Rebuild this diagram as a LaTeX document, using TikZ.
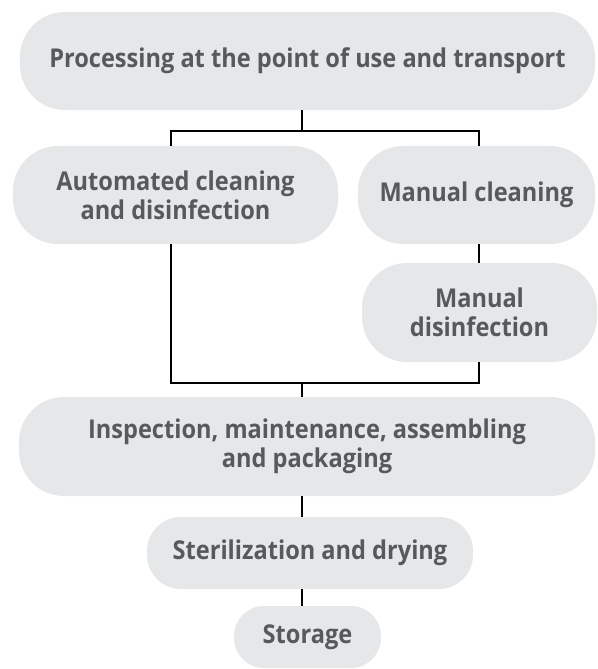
\documentclass[tikz,border=0pt]{standalone}
\usepackage{fontspec}
\setmainfont{Open Sans}[FakeStretch=0.91]
\definecolor{boxfill}{HTML}{E6E7E8}
\definecolor{boxtext}{HTML}{58595B}
\begin{document}
\begin{tikzpicture}[x=1bp,y=-1bp,
  stage/.style={rectangle, fill=boxfill, text=boxtext, inner sep=0pt, align=center,
    font=\fontsize{26}{29}\selectfont\bfseries},
  link/.style={line width=1.8bp, black}]
\useasboundingbox (0,0) rectangle (598,669);
\node[stage, minimum width=575bp, minimum height=98bp, rounded corners=45bp] (b1) at (307.5,61) {Processing at the point of use and transport};
\node[stage, minimum width=325bp, minimum height=98bp, rounded corners=45bp] (b2) at (175.5,195) {Automated cleaning\\and disinfection};
\node[stage, minimum width=237bp, minimum height=98bp, rounded corners=45bp] (b3) at (476.5,195) {Manual cleaning};
\node[stage, minimum width=235bp, minimum height=99bp, rounded corners=45bp] (b4) at (479.5,312.5) {Manual\\disinfection};
\node[stage, minimum width=576bp, minimum height=99bp, rounded corners=45bp] (b5) at (307,446.5) {Inspection, maintenance, assembling\\and packaging};
\node[stage, minimum width=326bp, minimum height=72bp, rounded corners=34bp] (b6) at (310,553) {Sterilization and drying};
\node[stage, minimum width=147bp, minimum height=62bp, rounded corners=30bp] (b7) at (307.5,637) {Storage};
\coordinate (j1) at (302,131);
\coordinate (xl) at (171,131);
\coordinate (xr) at (479,131);
\coordinate (yb) at (302,383);
\draw[link] (b1.south -| j1) -- (j1);
\draw[link] (b2.north -| xl) |- (xr) -- (b3.north -| xr);
\draw[link] (b3.south -| xr) -- (b4.north -| xr);
\draw[link] (b2.south -| xl) |- (yb) -| (b4.south -| xr);
\draw[link] (yb) -- (b5.north -| yb);
\draw[link] (b5.south -| yb) -- (b6.north -| yb);
\draw[link] (b6.south -| yb) -- (b7.north -| yb);
\end{tikzpicture}
\end{document}
